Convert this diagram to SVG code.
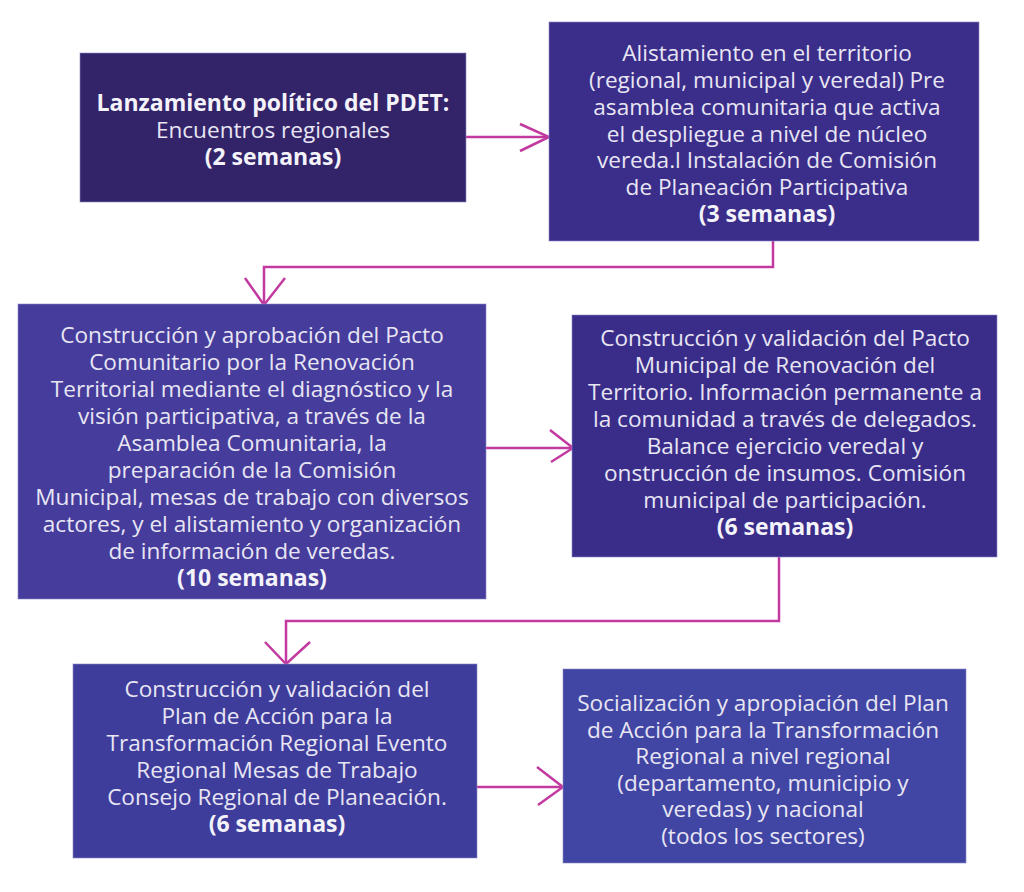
<svg xmlns="http://www.w3.org/2000/svg" width="1024" height="892" viewBox="0 0 1024 892">
<style>
.t{font-family:"Open Sans","Noto Sans","Liberation Sans",sans-serif;font-size:22.6px;fill:#e8e6f3;text-anchor:middle}
.b{font-weight:bold;fill:#f4f3fa;font-size:23px}
.box{stroke:#8c88c8;stroke-width:1;stroke-opacity:0.6}
.c{fill:none;stroke:#c23a9f;stroke-width:2.5;stroke-linejoin:miter}
</style>
<rect width="1024" height="892" fill="#ffffff"/>
<g id="connectors">
<line class="c" x1="466" y1="137" x2="548" y2="137"/>
<polyline class="c" points="520,124 549,137 520,151"/>
<polyline class="c" points="773,241 773,267 264,267 264,304"/>
<polyline class="c" points="245,278 264,305 285,278"/>
<line class="c" x1="486" y1="448" x2="572" y2="448"/>
<polyline class="c" points="550,430 573,448 551,462"/>
<polyline class="c" points="779,557 779,621 286,621 286,663"/>
<polyline class="c" points="265,642 286,664 310,642"/>
<line class="c" x1="477" y1="787" x2="562" y2="787"/>
<polyline class="c" points="537,767 563,787 538,805"/>
</g>
<g id="n1">
<rect class="box" x="80" y="53" width="386" height="149" fill="#33246a"/>
<text class="t b" x="273" y="111">Lanzamiento político del PDET:</text>
<text class="t" x="273" y="138">Encuentros regionales</text>
<text class="t b" x="273" y="165">(2 semanas)</text>
</g>
<g id="n2">
<rect class="box" x="549" y="22" width="430" height="219" fill="#3b2d8a"/>
<text class="t" x="767" y="61">Alistamiento en el territorio</text>
<text class="t" x="767" y="88">(regional, municipal y veredal) Pre</text>
<text class="t" x="767" y="115">asamblea comunitaria que activa</text>
<text class="t" x="767" y="142">el despliegue a nivel de núcleo</text>
<text class="t" x="767" y="168">vereda.l Instalación de Comisión</text>
<text class="t" x="767" y="195">de Planeación Participativa</text>
<text class="t b" x="767" y="222">(3 semanas)</text>
</g>
<g id="n3">
<rect class="box" x="18" y="304" width="468" height="295" fill="#453c9c"/>
<text class="t" x="252" y="343">Construcción y aprobación del Pacto</text>
<text class="t" x="252" y="370">Comunitario por la Renovación</text>
<text class="t" x="252" y="397">Territorial mediante el diagnóstico y la</text>
<text class="t" x="252" y="424">visión participativa, a través de la</text>
<text class="t" x="252" y="451">Asamblea Comunitaria, la</text>
<text class="t" x="252" y="478">preparación de la Comisión</text>
<text class="t" x="252" y="505">Municipal, mesas de trabajo con diversos</text>
<text class="t" x="252" y="532">actores, y el alistamiento y organización</text>
<text class="t" x="252" y="559">de información de veredas.</text>
<text class="t b" x="252" y="586">(10 semanas)</text>
</g>
<g id="n4">
<rect class="box" x="572" y="315" width="425" height="242" fill="#3a2d8a"/>
<text class="t" x="785" y="346">Construcción y validación del Pacto</text>
<text class="t" x="785" y="373">Municipal de Renovación del</text>
<text class="t" x="785" y="400">Territorio. Información permanente a</text>
<text class="t" x="785" y="427">la comunidad a través de delegados.</text>
<text class="t" x="785" y="454">Balance ejercicio veredal y</text>
<text class="t" x="785" y="481">onstrucción de insumos. Comisión</text>
<text class="t" x="785" y="508">municipal de participación.</text>
<text class="t b" x="785" y="535">(6 semanas)</text>
</g>
<g id="n5">
<rect class="box" x="73" y="664" width="404" height="194" fill="#3f3d9c"/>
<text class="t" x="277" y="697">Construcción y validación del</text>
<text class="t" x="277" y="724">Plan de Acción para la</text>
<text class="t" x="277" y="751">Transformación Regional Evento</text>
<text class="t" x="277" y="778">Regional Mesas de Trabajo</text>
<text class="t" x="277" y="805">Consejo Regional de Planeación.</text>
<text class="t b" x="277" y="832">(6 semanas)</text>
</g>
<g id="n6">
<rect class="box" x="563" y="669" width="403" height="194" fill="#4145a3"/>
<text class="t" x="763" y="711">Socialización y apropiación del Plan</text>
<text class="t" x="763" y="738">de Acción para la Transformación</text>
<text class="t" x="763" y="764">Regional a nivel regional</text>
<text class="t" x="763" y="791">(departamento, municipio y</text>
<text class="t" x="763" y="817">veredas) y nacional</text>
<text class="t" x="763" y="844">(todos los sectores)</text>
</g>
</svg>
